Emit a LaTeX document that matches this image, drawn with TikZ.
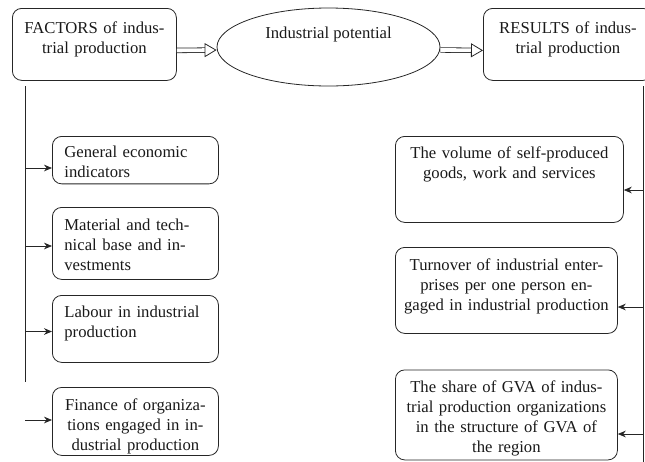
\documentclass[tikz,border=0pt]{standalone}
\usepackage{fontspec}
\setmainfont{Liberation Serif}
\usetikzlibrary{shapes.geometric,arrows.meta,positioning}

\tikzset{
  cell/.style={draw=black!85, line width=0.6pt, rounded corners=7pt,
    anchor=north west, align=left, inner xsep=9pt, inner ysep=0pt,
    text height=16.9pt, font=\fontsize{12.5}{15}\selectfont, text=black!90},
  ccell/.style={cell, align=center, inner xsep=4pt},
  oval/.style={draw=black!85, line width=0.6pt, ellipse, inner sep=0pt,
    font=\fontsize{12.5}{15}\selectfont, text=black!90},
  flow/.style={draw=black!85, line width=0.6pt, double, double distance=2.85pt,
    -{Triangle[open,length=9pt,width=10.5pt,line width=0.6pt]}},
  rail/.style={draw=black!85, line width=0.6pt}
}

\begin{document}
\begin{tikzpicture}[%
x=0.75pt, y=-0.75pt,
>={Stealth[length=6pt,width=5pt]}
]
\path[use as bounding box, clip] (0,0) rectangle (645,461);

% top row
\node[ccell, text width=115pt, text height=19pt, text depth=35pt] (fac) at (12,8)
  {FACTORS of indus-\\trial production};
\node[oval, minimum width=167.25pt, minimum height=58.5pt,
  text height=9pt, text depth=22.5pt] (pot) at (328.5,47) {Industrial potential};
\node[ccell, text width=118.75pt, text height=19pt, text depth=35pt] (res) at (483,8)
  {RESULTS of indus-\\trial production};

% factors
\node[cell, text width=106.5pt, text height=15.5pt, text depth=20.1pt] (gen) at (52,136)
  {General economic\\indicators};
\node[cell, text width=106.5pt, text height=17.5pt, text depth=36.5pt] (mat) at (52,207)
  {Material and tech-\\nical base and in-\\vestments};
\node[cell, text width=106.5pt, text height=16.7pt, text depth=33.55pt] (lab) at (52,295)
  {Labour in industrial\\production};
\node[ccell, text width=116.5pt, text height=17pt, text depth=34pt] (fin) at (52,387)
  {Finance of organiza-\\tions engaged in in-\\dustrial production};

% results
\node[ccell, text width=163pt, text height=16.7pt, text depth=47.8pt] (vol) at (395,136)
  {The volume of self-produced\\goods, work and services};
\node[ccell, text width=158.5pt, text height=17.5pt, text depth=47pt] (tur) at (395,247)
  {Turnover of industrial enter-\\prises per one person en-\\gaged in industrial production};
\node[ccell, text width=158.5pt, text height=16.7pt, text depth=50.8pt] (sha) at (395,369.5)
  {The share of GVA of indus-\\trial production organizations\\in the structure of GVA of\\the region};

% rails
\coordinate (ltop) at (25,86);
\coordinate (lbot) at (25,382);
\coordinate (rtop) at (643,86);
\coordinate (rbot) at (643,463);
\coordinate (g0) at (25,168);
\coordinate (m0) at (25,246);
\coordinate (l0) at (25,331.5);
\coordinate (f0) at (25,420);
\coordinate (v0) at (643,190);
\coordinate (t0) at (643,307);
\coordinate (s0) at (643,434);

\path ([yshift=-4.5pt]fac.east) edge[flow] ([yshift=-2.25pt]pot.west);
\path ([yshift=-2.25pt]pot.east) edge[flow] ([yshift=-4.5pt]res.west);

\path (ltop) edge[rail] (lbot);
\path (rtop) edge[rail] (rbot);

% solid: factors
\path[->] (g0) edge[rail] (g0 -| gen.west);
\path[->] (m0) edge[rail] (m0 -| mat.west);
\path[->] (l0) edge[rail] (l0 -| lab.west);
\path[->] (f0) edge[rail] (f0 -| fin.west);

% solid: results
\path[->] (v0) edge[rail] (v0 -| vol.east);
\path[->] (t0) edge[rail] (t0 -| tur.east);
\path[->] (s0) edge[rail] (s0 -| sha.east);

\end{tikzpicture}
\end{document}
